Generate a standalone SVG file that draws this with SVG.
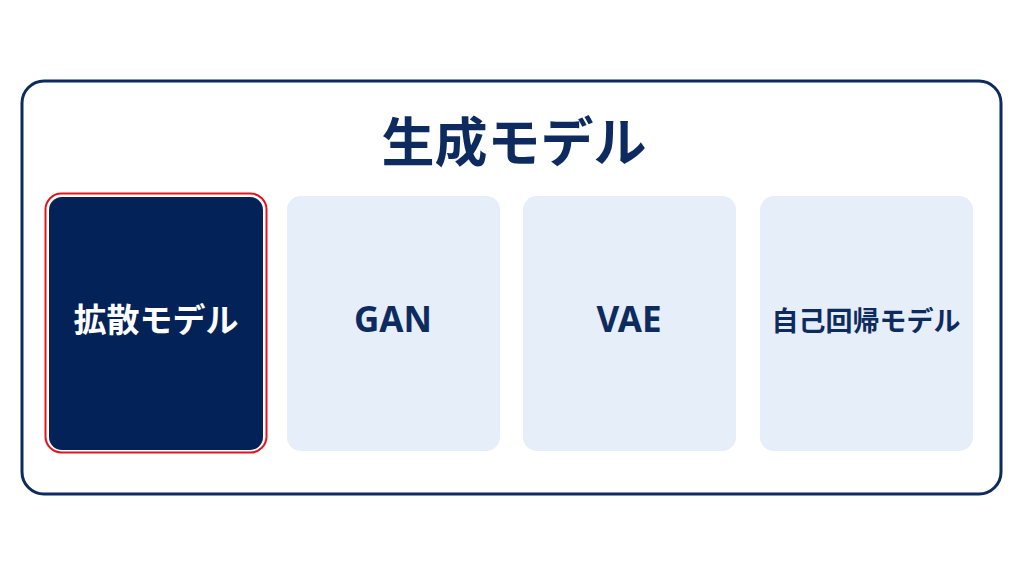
<svg xmlns="http://www.w3.org/2000/svg" width="1024" height="576" viewBox="0 0 1024 576">
  <style>
    .frame { fill: #ffffff; stroke: #0d2b5e; stroke-width: 3; }
    .card { fill: #e6eef9; }
    .card-active { fill: #022258; }
    .sel { fill: none; stroke: #e3141b; stroke-width: 2; }
    .title { font-family: "Noto Sans CJK JP", "Noto Sans", sans-serif; font-weight: 700; font-size: 53px; fill: #0d2b5e; text-anchor: middle; }
    .lbl { font-family: "Noto Sans", "Noto Sans CJK JP", sans-serif; font-weight: 700; font-size: 35px; fill: #0d2b5e; text-anchor: middle; }
    .lbl-jp { font-family: "Noto Sans CJK JP", sans-serif; font-weight: 700; fill: #0d2b5e; text-anchor: middle; }
  </style>
  <rect width="1024" height="576" fill="#ffffff"/>
  <g id="frame">
    <rect class="frame" x="22" y="81" width="979" height="413" rx="22"/>
    <text class="title" x="514" y="162">生成モデル</text>
  </g>
  <g id="node-diffusion">
    <rect class="sel" x="45.5" y="193.5" width="221" height="259" rx="16"/>
    <rect class="card-active" x="49" y="197" width="214" height="253" rx="13"/>
    <text class="lbl-jp" x="156" y="332" font-size="33" style="fill:#ffffff">拡散モデル</text>
  </g>
  <g id="node-gan">
    <rect class="card" x="287" y="196" width="213" height="255" rx="14"/>
    <text class="lbl" x="393" y="332">GAN</text>
  </g>
  <g id="node-vae">
    <rect class="card" x="523" y="196" width="213" height="255" rx="14"/>
    <text class="lbl" x="629" y="332">VAE</text>
  </g>
  <g id="node-ar">
    <rect class="card" x="760" y="196" width="213" height="255" rx="14"/>
    <text class="lbl-jp" x="866" y="331" font-size="27">自己回帰モデル</text>
  </g>
  <g id="connectors"></g>
</svg>
